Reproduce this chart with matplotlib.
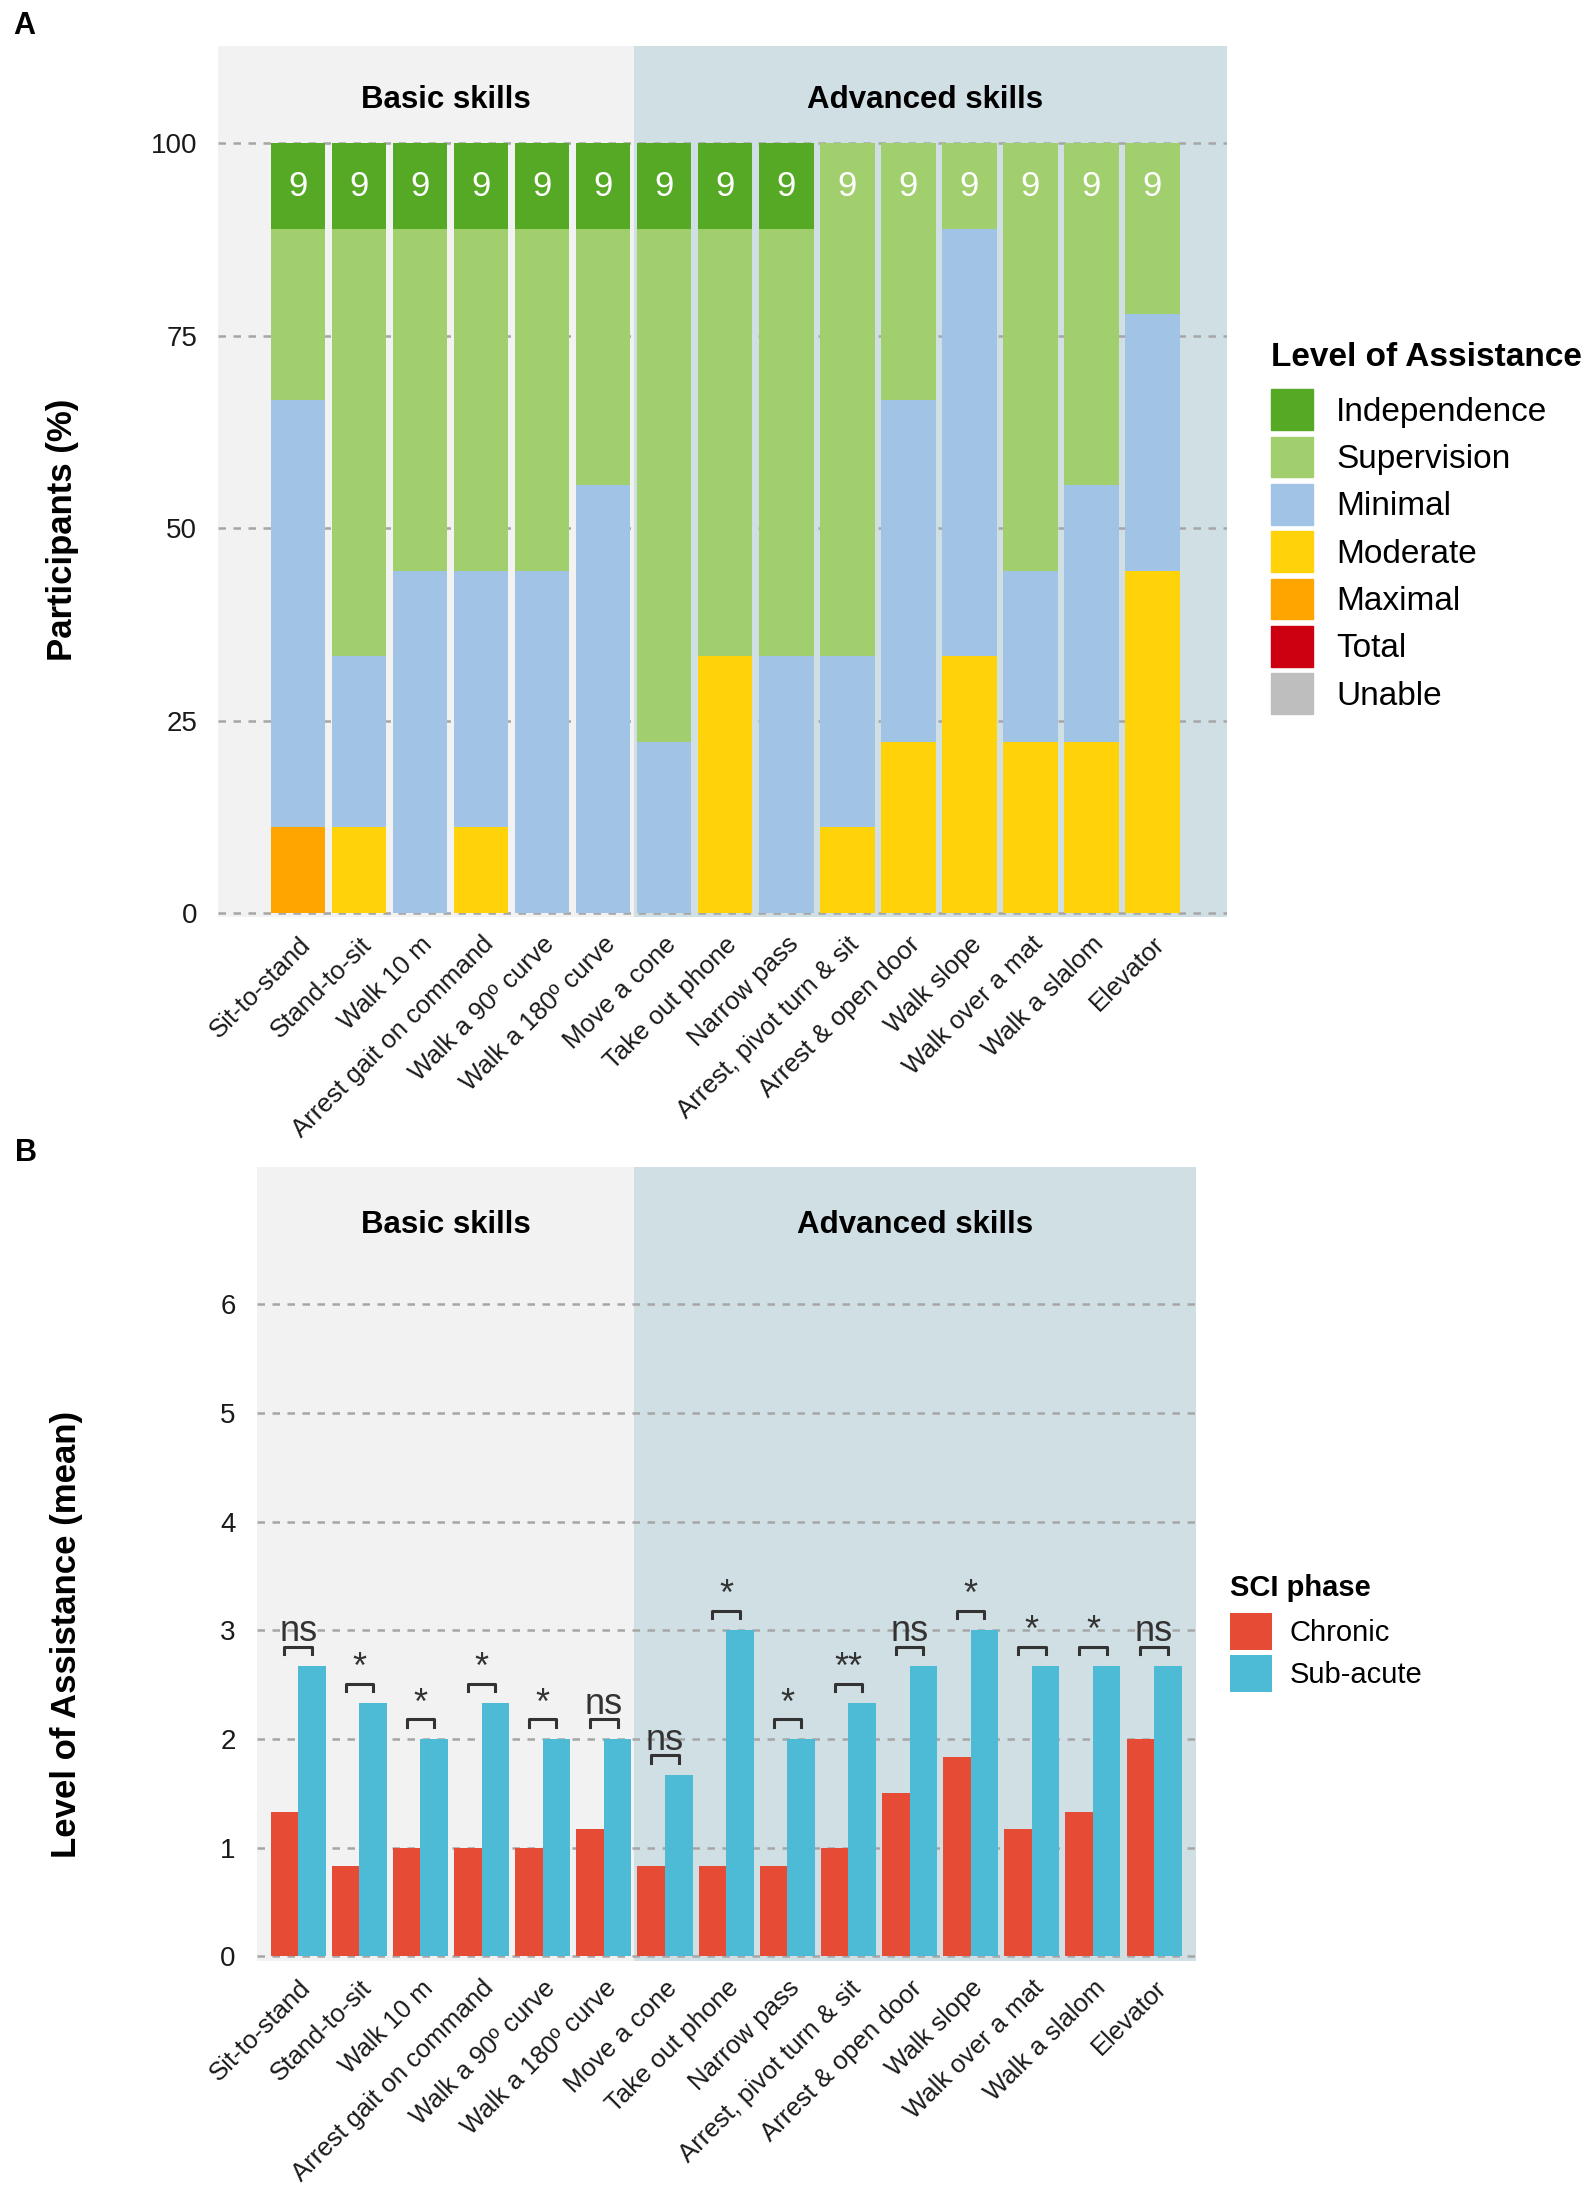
import matplotlib
matplotlib.use("Agg")
import matplotlib.pyplot as plt
from matplotlib.patches import Patch
from matplotlib.transforms import ScaledTranslation
import numpy as np

plt.rcParams['font.family'] = ['Liberation Sans', 'DejaVu Sans']

skills = ["Sit-to-stand", "Stand-to-sit", "Walk 10 m", "Arrest gait on command",
          "Walk a 90º curve", "Walk a 180º curve", "Move a cone", "Take out phone",
          "Narrow pass", "Arrest, pivot turn & sit", "Arrest & open door",
          "Walk slope", "Walk over a mat", "Walk a slalom", "Elevator"]

# participants (out of 9) at each level of assistance, bottom to top of the stack
levels = ["Independence", "Supervision", "Minimal", "Moderate", "Maximal", "Total", "Unable"]
level_colors = ["#55a924", "#a1cf6e", "#a0c3e6", "#ffd20a", "#ffa500", "#cc0010", "#bebebe"]
n_unable = [0, 0, 0, 0, 0, 0, 0, 0, 0, 0, 0, 0, 0, 0, 0]
n_total = [0, 0, 0, 0, 0, 0, 0, 0, 0, 0, 0, 0, 0, 0, 0]
n_maximal = [1, 0, 0, 0, 0, 0, 0, 0, 0, 0, 0, 0, 0, 0, 0]
n_moderate = [0, 1, 0, 1, 0, 0, 0, 3, 0, 1, 2, 3, 2, 2, 4]
n_minimal = [5, 2, 4, 3, 4, 5, 2, 0, 3, 2, 4, 5, 2, 3, 3]
n_supervision = [2, 5, 4, 4, 4, 3, 6, 5, 5, 6, 3, 1, 5, 4, 2]
n_independence = [1, 1, 1, 1, 1, 1, 1, 1, 1, 0, 0, 0, 0, 0, 0]
n_participants = [9] * 15

# mean level of assistance by SCI phase
chronic = [1.33, 0.83, 1.0, 1.0, 1.0, 1.17, 0.83, 0.83, 0.83, 1.0, 1.5, 1.83, 1.17, 1.33, 2.0]
subacute = [2.67, 2.33, 2.0, 2.33, 2.0, 2.0, 1.67, 3.0, 2.0, 2.33, 2.67, 3.0, 2.67, 2.67, 2.67]
signif = ["ns", "*", "*", "*", "*", "ns", "ns", "*", "*", "**", "ns", "*", "*", "*", "ns"]

basic_bg = "#f2f2f2"
adv_bg = "#d0dfe3"
grid_col = "#a6a6a6"

fig = plt.figure(figsize=(15.95, 22.04), dpi=100)
x = np.arange(1, len(skills) + 1)
shift = ScaledTranslation(0.13, 0, fig.dpi_scale_trans)


def style_axes(ax, xmin, xmax, yticks):
    ax.axvspan(xmin, 6.5, color=basic_bg, zorder=0, lw=0)
    ax.axvspan(6.5, xmax, color=adv_bg, zorder=0, lw=0)
    ax.set_xlim(xmin, xmax)
    for yv in yticks:
        ax.axhline(yv, color=grid_col, ls=(0, (3, 3)), lw=1.8, zorder=1)
    ax.set_yticks(yticks)
    ax.set_xticks(x)
    ax.set_xticklabels(skills, rotation=45, ha='right', va='top',
                       rotation_mode='anchor', fontsize=18.5)
    for lbl in ax.get_xticklabels():
        lbl.set_transform(lbl.get_transform() + shift)
    ax.tick_params(axis='both', length=0, colors='#1a1a1a')
    ax.tick_params(axis='x', pad=11)
    ax.tick_params(axis='y', pad=15, labelsize=20)
    for s in ax.spines.values():
        s.set_visible(False)


# ---- panel A ----
axA = fig.add_axes([0.1367, 0.584, 0.6323, 0.395])
style_axes(axA, -0.31, 16.22, [0, 25, 50, 75, 100])
axA.set_ylim(-0.5, 112.6)
counts = [n_unable, n_total, n_maximal, n_moderate, n_minimal, n_supervision, n_independence]
stack_cols = level_colors[::-1]
bottom = np.zeros(len(skills))
for cnt, col in zip(counts, stack_cols):
    pct = np.array(cnt) / np.array(n_participants) * 100
    axA.bar(x, pct, bottom=bottom, width=0.9, color=col, lw=0, zorder=2)
    bottom += pct
for xi, n in zip(x, n_participants):
    axA.text(xi, 94.4, str(n), ha='center', va='center', color='white', fontsize=25, zorder=3)
axA.text(3.42, 105.6, "Basic skills", ha='center', va='center', fontsize=22.5, fontweight='bold')
axA.text(11.28, 105.6, "Advanced skills", ha='center', va='center', fontsize=22.5, fontweight='bold')
axA.set_ylabel("Participants (%)", fontsize=25, fontweight='bold')
axA.yaxis.set_label_coords(-0.138, 0.445)
axA.set_yticklabels(["0", "25", "50", "75", "100"])

handlesA = [Patch(color=c, label=l) for l, c in zip(levels, level_colors)]
legA = axA.legend(handles=handlesA, title="Level of Assistance", loc='upper left',
                  bbox_to_anchor=(0.797, 0.845), bbox_transform=fig.transFigure,
                  frameon=False, fontsize=24, title_fontproperties={'size': 24, 'weight': 'bold'},
                  handlelength=1.25, handleheight=1.5, labelspacing=0.2, handletextpad=0.7,
                  borderaxespad=0, borderpad=0)
legA._legend_box.align = "left"
legA._legend_box.sep = 12

# ---- panel B ----
axB = fig.add_axes([0.1609, 0.1104, 0.5887, 0.3599])
style_axes(axB, 0.32, 15.68, [0, 1, 2, 3, 4, 5, 6])
axB.set_ylim(-0.04, 7.26)
axB.bar(x - 0.225, chronic, width=0.45, color="#e64b35", lw=0, zorder=2, label="Chronic")
axB.bar(x + 0.225, subacute, width=0.45, color="#4dbbd5", lw=0, zorder=2, label="Sub-acute")
for xi, c, s, lab in zip(x, chronic, subacute, signif):
    yb = max(c, s) + 0.18
    axB.plot([xi - 0.225, xi - 0.225, xi + 0.225, xi + 0.225],
             [yb - 0.07, yb, yb, yb - 0.07], color='#333333', lw=2.2, zorder=3)
    axB.text(xi, yb + 0.05, lab, ha='center', va='baseline', fontsize=26, color='#333333', zorder=3)
axB.text(3.41, 6.73, "Basic skills", ha='center', va='center', fontsize=22.5, fontweight='bold')
axB.text(11.09, 6.73, "Advanced skills", ha='center', va='center', fontsize=22.5, fontweight='bold')
axB.set_ylabel("Level of Assistance (mean)", fontsize=25, fontweight='bold')
axB.yaxis.set_label_coords(-0.185, 0.411)

legB = axB.legend(title="SCI phase", loc='upper left',
                  bbox_to_anchor=(0.771, 0.286), bbox_transform=fig.transFigure,
                  frameon=False, fontsize=21, title_fontproperties={'size': 21, 'weight': 'bold'},
                  handlelength=1.45, handleheight=1.6, labelspacing=0.15, handletextpad=0.6,
                  borderaxespad=0, borderpad=0)
legB._legend_box.align = "left"
legB._legend_box.sep = 8

fig.text(0.015, 0.988, "A", fontsize=22, fontweight='bold', va='center', ha='center')
fig.text(0.016, 0.477, "B", fontsize=22, fontweight='bold', va='center', ha='center')

fig.savefig("out.png", dpi=100)
